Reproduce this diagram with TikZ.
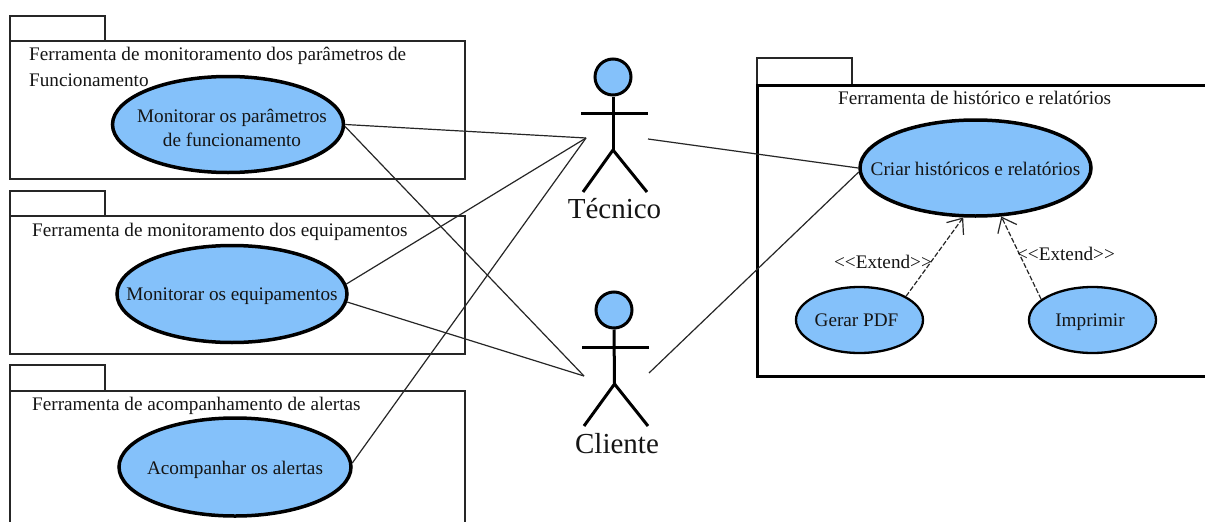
\documentclass[tikz,border=0pt]{standalone}
\usepackage{fontspec}
\setmainfont{Liberation Serif}
\usetikzlibrary{shapes.geometric,arrows.meta}
\definecolor{ucblue}{HTML}{84C1FA}
\definecolor{inktext}{HTML}{151515}
\newcommand{\uclabel}[3]{\makebox[0pt]{\hspace{#1pt}\hspace{#1pt}\raisebox{-#2pt}[\height][\depth]{\begin{tabular}{@{}c@{}}#3\end{tabular}}}}
\tikzset{
  pkgbox/.style={draw=black!85,line width=1.6pt,fill=white,rectangle,inner sep=0pt,outer sep=0pt},
  pkgheavy/.style={pkgbox,draw=black,line width=3pt},
  usecase/.style={ellipse,draw=black,fill=ucblue,line width=3.5pt,inner sep=0pt,text=inktext,font=\fontsize{19.2}{24}\selectfont},
  usesmall/.style={usecase,line width=2.3pt},
  head/.style={circle,draw=black,fill=ucblue,line width=3pt,inner sep=0pt,minimum size=36pt},
  limb/.style={draw=black,line width=3pt},
  assoc/.style={draw=black!85,line width=1.2pt},
  extendline/.style={draw=black!85,line width=1.2pt,dash pattern=on 5pt off 2pt,-{Straight Barb[length=13pt,width=21pt,line width=1.2pt]}},
  pkgtitle/.style={anchor=west,inner sep=0pt,text=inktext,font=\fontsize{19.2}{24}\selectfont,align=left},
  actorname/.style={inner sep=0pt,text=inktext,font=\fontsize{29}{32}\selectfont},
  stereo/.style={inner sep=0pt,text=inktext,font=\fontsize{19.2}{22}\selectfont}
}
\begin{document}
\begin{tikzpicture}[x=1pt,y=-1pt]
\useasboundingbox (0,0) rectangle (1205,522);
\clip (0,0) rectangle (1205,522);
\fill[white] (0,0) rectangle (1205,522);
% packages
\node[pkgbox,minimum width=95pt,minimum height=25pt] (t1) at (57.5,28.5) {};
\node[pkgbox,minimum width=455pt,minimum height=138pt] (p1) at (237.5,110) {};
\node[pkgbox,minimum width=95pt,minimum height=25pt] (t2) at (57.5,203.5) {};
\node[pkgbox,minimum width=455pt,minimum height=138pt] (p2) at (237.5,285) {};
\node[pkgbox,minimum width=95pt,minimum height=26pt] (t3) at (57.5,378) {};
\node[pkgbox,minimum width=455pt,minimum height=139pt] (p3) at (237.5,460.5) {};
\node[pkgbox,minimum width=95pt,minimum height=27pt] (t4) at (804.5,71.5) {};
\node[pkgheavy,minimum width=453pt,minimum height=291pt] (p4) at (983.5,230.5) {};
% package titles
\node[pkgtitle] (l1a) at (29,56) {Ferramenta de monitoramento dos parâmetros de};
\node[pkgtitle] (l1b) at (29,80) {Funcionamento};
\node[pkgtitle] (l2) at (32,232) {Ferramenta de monitoramento dos equipamentos};
\node[pkgtitle] (l3) at (32,406) {Ferramenta de acompanhamento de alertas};
\node[pkgtitle] (l4) at (838,98) {Ferramenta de histórico e relatórios};
% use cases
\node[usecase,minimum width=231pt,minimum height=96pt] (e1) at (228,124.5) {\uclabel{4}{5}{Monitorar os parâmetros\\de funcionamento}};
\node[usecase,minimum width=230pt,minimum height=97pt] (e2) at (232,294) {\uclabel{0}{2}{Monitorar os equipamentos}};
\node[usecase,minimum width=232pt,minimum height=98pt] (e3) at (235,467) {\uclabel{0}{3}{Acompanhar os alertas}};
\node[usecase,minimum width=231pt,minimum height=96pt] (e4) at (975.5,168) {\uclabel{0}{3}{Criar históricos e relatórios}};
\node[usesmall,minimum width=127pt,minimum height=66pt] (g) at (859.5,320) {\uclabel{-3}{2}{Gerar PDF}};
\node[usesmall,minimum width=127pt,minimum height=66pt] (i) at (1092.5,320) {\uclabel{-2.5}{2}{Imprimir}};
% actor Tecnico
\node[head] (h1) at (613,77) {};
\coordinate (h1hip) at (613,150);
\coordinate (h1la) at (581,113);
\coordinate (h1ra) at (648,113);
\coordinate (h1lf) at (583,192);
\coordinate (h1rf) at (647,192);
\draw[limb] (h1.south) -- (h1hip);
\draw[limb] (h1la) -- (h1ra);
\draw[limb] (h1lf) -- (h1hip) -- (h1rf);
\node[actorname] (n1) at (614.5,209) {Técnico};
% actor Cliente
\node[head] (h2) at (614,310) {};
\coordinate (h2hip) at (614.5,384);
\coordinate (h2la) at (582,347);
\coordinate (h2ra) at (649,347);
\coordinate (h2lf) at (584,426);
\coordinate (h2rf) at (648,426);
\draw[limb] (h2.south) -- (h2hip);
\draw[limb] (h2la) -- (h2ra);
\draw[limb] (h2lf) -- (h2hip) -- (h2rf);
\node[actorname] (n2) at (617,444) {Cliente};
% connector ends beside the actors
\coordinate (a1l) at (586,138);
\coordinate (a1r) at (648,139);
\coordinate (a2l) at (584,376);
\coordinate (a2r) at (649,373);
\draw[assoc] (e1.0) -- (a1l);
\draw[assoc] (e1.-1) -- (a2l);
\draw[assoc] (e2.5.6) -- (a1l);
\draw[assoc] (e2.-4.5) -- (a2l);
\draw[assoc] (e3.2.5) -- (a1l);
\draw[assoc] (a1r) -- (e4.180);
\draw[assoc] (a2r) -- (e4.182);
% extends
\draw[extendline] (g.27.5) -- (e4.256.5);
\draw[extendline] (i.158) -- (e4.298);
\node[stereo] (x1) at (883,262) {<{}<Extend>{}>};
\node[stereo] (x2) at (1066,254) {<{}<Extend>{}>};
\end{tikzpicture}
\end{document}
